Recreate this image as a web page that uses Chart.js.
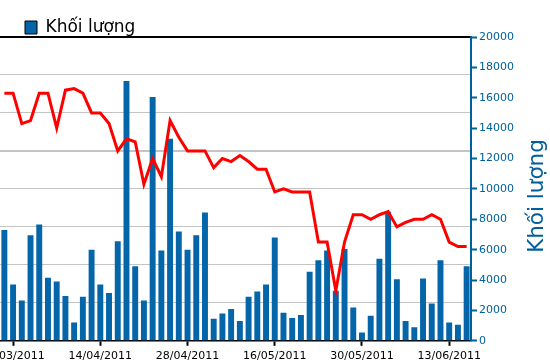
<!DOCTYPE html>
<html>
<head>
<meta charset="utf-8">
<script src="https://cdn.jsdelivr.net/npm/chart.js@4.4.1/dist/chart.umd.min.js"></script>
<style>
  html, body { margin: 0; padding: 0; background: #fff; }
  #wrap { width: 550px; height: 364px; position: relative; }
</style>
</head>
<body>
<div id="wrap"><canvas id="stockChart"></canvas></div>
<script>
// trading days shown in the picture
const dates = [
  '29/03/2011','30/03/2011','31/03/2011','01/04/2011','04/04/2011','05/04/2011','06/04/2011','07/04/2011','08/04/2011','11/04/2011',
  '13/04/2011','14/04/2011','15/04/2011','18/04/2011','19/04/2011','20/04/2011','21/04/2011','22/04/2011','25/04/2011','26/04/2011',
  '27/04/2011','28/04/2011','29/04/2011','04/05/2011','05/05/2011','06/05/2011','09/05/2011','10/05/2011','11/05/2011','12/05/2011',
  '13/05/2011','16/05/2011','17/05/2011','18/05/2011','19/05/2011','20/05/2011','23/05/2011','24/05/2011','25/05/2011','26/05/2011',
  '27/05/2011','30/05/2011','31/05/2011','01/06/2011','02/06/2011','03/06/2011','06/06/2011','07/06/2011','08/06/2011','09/06/2011',
  '10/06/2011','13/06/2011','14/06/2011','15/06/2011'
];

// closing price (left axis, not labelled in the picture)
const price = [
  16300, 16300, 14300, 14500, 16300, 16300, 14000, 16500, 16600, 16300,
  15000, 15000, 14300, 12500, 13300, 13100, 10300, 12000, 10800, 14500,
  13400, 12500, 12500, 12500, 11400, 12000, 11800, 12200, 11800, 11300,
  11300, 9800, 10000, 9800, 9800, 9800, 6500, 6500, 3300, 6500,
  8300, 8300, 8000, 8300, 8500, 7500, 7800, 8000, 8000, 8300,
  8000, 6500, 6200, 6200
];

// traded volume (right axis)
const volume = [
  7300, 3700, 2650, 6950, 7650, 4150, 3900, 2950, 1200, 2900,
  6000, 3700, 3150, 6550, 17100, 4900, 2650, 16050, 5950, 13300,
  7200, 6000, 6950, 8450, 1450, 1800, 2100, 1300, 2900, 3250,
  3700, 6800, 1850, 1500, 1700, 4550, 5300, 5950, 3300, 6050,
  2200, 550, 1650, 5400, 8500, 4050, 1300, 900, 4100, 2450,
  5300, 1200, 1050, 4900
];

const volTicks = { min: 0, max: 20000, step: 2000 };
const priceTicks = { min: 0, max: 20000, step: 2500 };

const labelEvery = 10;
const labelFrom = 1;
const volTitle = 'Khối lượng';
const blue = '#0465a9';
const axisBlue = '#00609c';

const volTitlePlugin = {
  id: 'volTitle',
  afterLayout(chart) {
    // nudge the legend to where the original sits
    chart.legend.left += 15;
    chart.legend.top += 9;
  },
  afterDraw(chart) {
    const c = chart.ctx;
    c.save();
    c.translate(537, 196);
    c.rotate(-Math.PI / 2);
    c.font = '21.5px "DejaVu Sans"';
    c.fillStyle = axisBlue;
    c.textAlign = 'center';
    c.textBaseline = 'middle';
    c.fillText(volTitle, 0, 0);
    c.restore();
  }
};

new Chart(document.getElementById('stockChart'), {
  type: 'bar',
  data: {
    labels: dates,
    datasets: [{
      type: 'line',
      label: 'Giá',
      data: price,
      yAxisID: 'yPrice',
      borderColor: '#ff0000',
      borderWidth: 3,
      pointRadius: 0,
      tension: 0,
      fill: false
    }, {
      label: volTitle,
      data: volume,
      yAxisID: 'yVol',
      backgroundColor: blue,
      categoryPercentage: 1,
      barPercentage: 0.68
    }]
  },
  options: {
    responsive: true,
    maintainAspectRatio: false,
    animation: false,
    layout: { padding: { left: 0, right: 34, top: 0, bottom: -3 } },
    plugins: {
      tooltip: { enabled: false },
      legend: {
        align: 'start',
        labels: {
          boxWidth: 12,
          boxHeight: 13,
          padding: 10,
          color: '#000',
          font: { family: 'DejaVu Sans', size: 17 },
          generateLabels: (chart) => [{
            text: chart.data.datasets[1].label,
            fillStyle: blue,
            strokeStyle: '#000',
            lineWidth: 1,
            datasetIndex: 1
          }]
        }
      }
    },
    scales: {
      x: {
        grid: {
          drawOnChartArea: false,
          drawTicks: true,
          tickLength: 5,
          tickWidth: 2,
          tickColor: '#000',
          offset: false
        },
        border: { color: '#000', width: 1.5 },
        ticks: {
          autoSkip: false,
          maxRotation: 0,
          minRotation: 0,
          padding: 4,
          color: '#000',
          font: { family: 'DejaVu Sans', size: 11 }
        },
        afterBuildTicks: (s) => {
          s.ticks = s.ticks.filter(t => t.value % labelEvery === labelFrom);
        },
        afterFit: (s) => {
          s.paddingLeft = 0;
          s.paddingRight = 0;
        }
      },
      yPrice: {
        position: 'left',
        min: priceTicks.min,
        max: priceTicks.max,
        ticks: { display: false, stepSize: priceTicks.step },
        border: { display: false },
        grid: {
          drawTicks: false,
          color: (ctx) => ctx.tick && ctx.tick.value === priceTicks.max ? '#000' : '#c4c4c4',
          lineWidth: (ctx) => {
            if (!ctx.tick) return 1;
            if (ctx.tick.value === priceTicks.max || ctx.tick.value === 12500) return 2;
            return 1;
          }
        }
      },
      yVol: {
        position: 'right',
        min: volTicks.min,
        max: volTicks.max,
        grid: {
          drawOnChartArea: false,
          drawTicks: true,
          tickLength: 6,
          tickWidth: 2,
          tickColor: axisBlue
        },
        border: { color: axisBlue, width: 2 },
        ticks: {
          stepSize: volTicks.step,
          padding: 2,
          color: axisBlue,
          font: { family: 'DejaVu Sans', size: 11 },
          callback: (v) => String(v)
        }
      }
    }
  },
  plugins: [volTitlePlugin]
});
</script>
</body>
</html>
